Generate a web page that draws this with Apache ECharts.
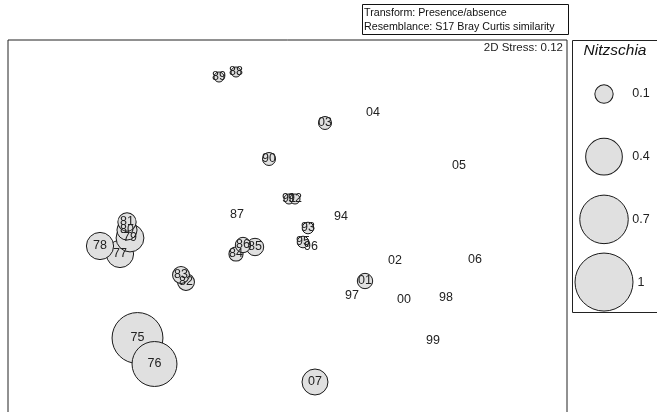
<!DOCTYPE html>
<html>
<head>
<meta charset="utf-8">
<script src="https://cdn.jsdelivr.net/npm/echarts@6/dist/echarts.min.js"></script>
<style>html,body{margin:0;padding:0;background:#fff}#c{width:657px;height:412px}</style>
</head>
<body>
<div id="c"></div>
<script>
// Sample (year) labels
var samples = ['75','76','77','78','79','80','81','82','83','84','85','86','87','88','89','90','91','92','93','94','95','96','97','98','99','00','01','02','03','04','05','06','07'];
// MDS coordinates
var mds1 = [-1.50,-1.33,-1.675,-1.875,-1.575,-1.605,-1.605,-1.015,-1.065,-0.515,-0.325,-0.445,-0.505,-0.515,-0.685,-0.185,0.015,0.075,0.205,0.535,0.155,0.235,0.645,1.585,1.455,1.165,0.775,1.075,0.375,0.855,1.715,1.875,0.275];
var mds2 = [-1.12,-1.38,-0.28,-0.20,-0.12,-0.04,0.04,-0.56,-0.49,-0.28,-0.21,-0.19,0.11,1.54,1.49,0.67,0.27,0.27,-0.02,0.09,-0.16,-0.21,-0.70,-0.72,-1.15,-0.74,-0.55,-0.35,1.03,1.13,0.60,-0.34,-1.56];
// Nitzschia values
var nitzschia = [0.77,0.60,0.22,0.22,0.23,0.12,0.10,0.085,0.085,0.06,0.09,0.07,0,0.03,0.03,0.05,0.03,0.03,0.04,0,0.04,0,0,0,0,0,0.07,0,0.05,0,0,0,0.20];
// Bubble legend
var legendValues = [0.1, 0.4, 0.7, 1];
var legendLabels = ['0.1','0.4','0.7','1'];

var RMAX = 29;
function sz(v){ return v > 0 ? 2 * RMAX * Math.sqrt(v) : 0; }

var pts = samples.map(function(s, i){ return {name: s, value: [mds1[i], mds2[i], nitzschia[i]]}; });
var legPts = legendValues.map(function(v, i){ return {name: legendLabels[i], value: [32, legendLabels[i], v]}; });
var legTxt = legendValues.map(function(v, i){ return {name: legendLabels[i], value: [69, legendLabels[i], v]}; });

var font = 'Liberation Sans, Arial, sans-serif';
var chart = echarts.init(document.getElementById('c'), null, {renderer: 'canvas'});
chart.setOption({
  animation: false,
  backgroundColor: '#fff',
  grid: [
    {left: 8, right: 90, top: 40, bottom: -1, outerBoundsMode: 'none', containLabel: false, show: true, borderColor: '#222', borderWidth: 1, backgroundColor: 'transparent'},
    {left: 572, width: 100, top: 62.7, height: 250.7, outerBoundsMode: 'none', containLabel: false, show: false}
  ],
  xAxis: [
    {gridIndex: 0, type: 'value', min: -2.795, max: 2.795, show: false},
    {gridIndex: 1, type: 'value', min: 0, max: 100, show: false}
  ],
  yAxis: [
    {gridIndex: 0, type: 'value', min: -1.87, max: 1.86, show: false},
    {gridIndex: 1, type: 'category', inverse: true, data: legendLabels, show: false}
  ],
  graphic: [
    {type: 'rect', shape: {x: 362.5, y: 4.5, width: 206, height: 30}, style: {fill: '#fff', stroke: '#111', lineWidth: 1}},
    {type: 'text', x: 364, y: 13.5, style: {text: 'Transform: Presence/absence', font: '10.7px ' + font, fill: '#111', textVerticalAlign: 'middle'}},
    {type: 'text', x: 364, y: 27, style: {text: 'Resemblance: S17 Bray Curtis similarity', font: '10.7px ' + font, fill: '#111', textVerticalAlign: 'middle'}},
    {type: 'text', x: 563, y: 48, style: {text: '2D Stress: 0.12', font: '11.5px ' + font, fill: '#222', textAlign: 'right', textVerticalAlign: 'middle'}},
    {type: 'rect', shape: {x: 572.5, y: 40.5, width: 100, height: 272}, style: {fill: 'none', stroke: '#222', lineWidth: 1}},
    {type: 'text', x: 615, y: 51, style: {text: 'Nitzschia', font: 'italic 15.5px ' + font, fill: '#111', textAlign: 'center', textVerticalAlign: 'middle'}}
  ],
  series: [
    {
      type: 'scatter', xAxisIndex: 0, yAxisIndex: 0,
      data: pts,
      symbol: 'circle',
      symbolSize: function(v){ return sz(v[2]); },
      itemStyle: {color: '#e0e0e0', borderColor: '#1a1a1a', borderWidth: 1, opacity: 1},
      label: {show: true, position: 'inside', formatter: '{b}', color: '#222', fontSize: 12.5, fontFamily: font},
      emphasis: {disabled: true},
      silent: true
    },
    {
      type: 'scatter', xAxisIndex: 1, yAxisIndex: 1,
      data: legPts,
      symbol: 'circle',
      symbolSize: function(v){ return sz(v[2]); },
      itemStyle: {color: '#e0e0e0', borderColor: '#1a1a1a', borderWidth: 1, opacity: 1},
      label: {show: false},
      emphasis: {disabled: true},
      silent: true
    },
    {
      type: 'scatter', xAxisIndex: 1, yAxisIndex: 1,
      data: legTxt,
      symbolSize: 0,
      itemStyle: {opacity: 1},
      label: {show: true, position: 'inside', formatter: '{b}', color: '#222', fontSize: 12.5, fontFamily: font},
      emphasis: {disabled: true},
      silent: true
    }
  ]
});
</script>
</body>
</html>
